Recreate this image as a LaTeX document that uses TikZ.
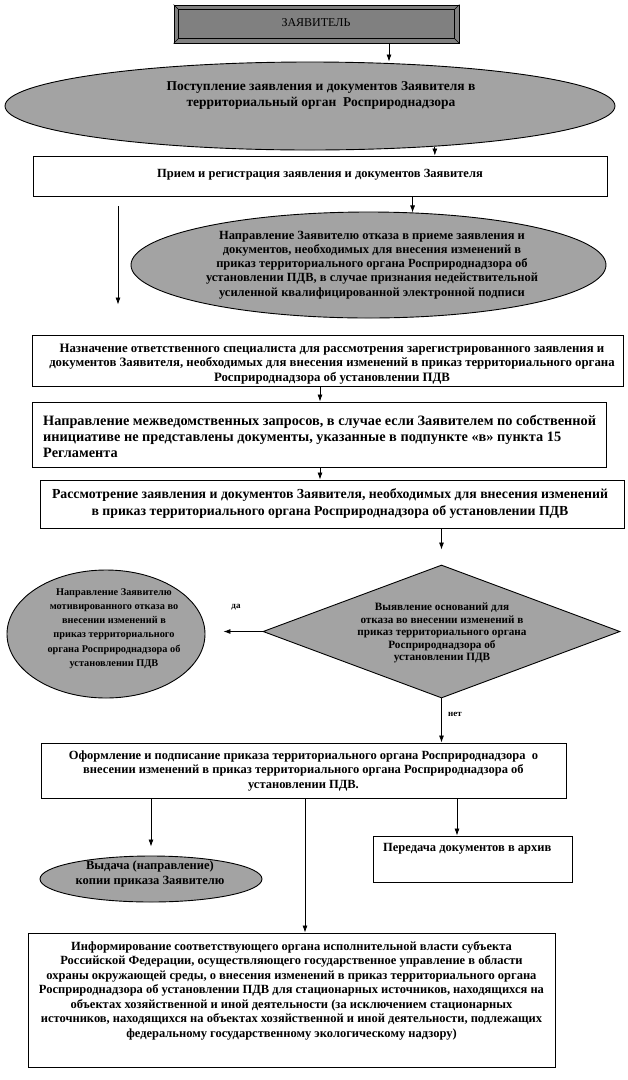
\documentclass[tikz,border=0pt]{standalone}
\usepackage{fontspec}
\setmainfont{Liberation Serif}
\usetikzlibrary{shapes.geometric,arrows.meta,calc}
\tikzset{
  box/.style={draw, line width=0.9pt, fill=white, inner sep=0pt},
  gshape/.style={draw, line width=0.9pt, fill=black!36, inner sep=0pt},
  txt/.style={align=center, inner sep=0pt, font=\fontsize{12.5}{14.5}\selectfont\bfseries},
  arr/.style={-{Latex[length=7pt,width=5pt]}, line width=0.8pt},
  small/.style={inner sep=0pt, font=\fontsize{9}{10}\selectfont\bfseries}
}
\begin{document}
\begin{tikzpicture}[x=1pt,y=-1pt]
\useasboundingbox (0,0) rectangle (628,1080);

% ---- shapes ----
\node[draw, line width=0.9pt, fill=black!50, minimum width=285, minimum height=38, inner sep=0pt] (zayav) at (316.5,24) {};
\draw[line width=0.6pt] ($(zayav.north west)+(5,5)$) rectangle ($(zayav.south east)+(-5,-5)$);
\draw[line width=0.6pt] (zayav.north west) -- ++(5,5) (zayav.north east) -- ++(-5,5)
  (zayav.south west) -- ++(5,-5) (zayav.south east) -- ++(-5,-5);
\node[inner sep=0pt, font=\fontsize{12}{14}\selectfont] (zayavt) at (316,23) {ЗАЯВИТЕЛЬ};

\node[gshape, ellipse, minimum width=610, minimum height=88] (e1) at (310,106) {};
\node[txt, font=\fontsize{13.5}{16}\selectfont\bfseries] (e1t) at (321,95) {Поступление заявления и документов Заявителя в\\территориальный орган\ \ Росприроднадзора};

\node[box, minimum width=574, minimum height=40] (priem) at (320,176) {};
\node[txt] (priemt) at (320,175) {Прием и регистрация заявления и документов Заявителя};

\node[gshape, ellipse, minimum width=475, minimum height=106] (e2) at (368.5,265) {};
\node[txt, font=\fontsize{12.5}{14.2}\selectfont\bfseries] (e2t) at (372,265) {Направление Заявителю отказа в приеме заявления и\\документов, необходимых для внесения изменений в\\приказ территориального органа Росприроднадзора об\\установлении ПДВ, в случае признания недействительной\\усиленной квалифицированной электронной подписи};

\node[box, minimum width=591, minimum height=51] (naznach) at (327.5,360.5) {};
\node[txt, font=\fontsize{12.8}{14.8}\selectfont\bfseries] (naznacht) at (332,364) {Назначение ответственного специалиста для рассмотрения зарегистрированного заявления и\\документов Заявителя, необходимых для внесения изменений в приказ территориального органа\\Росприроднадзора об установлении ПДВ};

\node[box, minimum width=574, minimum height=65] (mezhved) at (319,434.5) {};
\node[txt, align=left, anchor=west, font=\fontsize{14.3}{16}\selectfont\bfseries] (mezhvedt) at (43,436) {Направление межведомственных запросов, в случае если Заявителем по собственной\\инициативе не представлены документы, указанные в подпункте «в» пункта 15\\Регламента};

\node[box, minimum width=584, minimum height=48] (rassm) at (332,504) {};
\node[txt, font=\fontsize{13.8}{17}\selectfont\bfseries] (rassmt) at (330,504) {Рассмотрение заявления и документов Заявителя, необходимых для внесения изменений\\в приказ территориального органа Росприроднадзора об установлении ПДВ};

\node[gshape, diamond, minimum width=357, minimum height=133] (dia) at (441.5,631.5) {};
\node[txt, font=\fontsize{11.2}{12.6}\selectfont\bfseries] (diat) at (442,633) {Выявление оснований для\\отказа во внесении изменений в\\приказ территориального органа\\Росприроднадзора об\\установлении ПДВ};

\node[gshape, ellipse, minimum width=198, minimum height=128] (e3) at (106,634) {};
\node[txt, font=\fontsize{10.3}{14.2}\selectfont\bfseries] (e3t) at (114,628.5) {Направление Заявителю\\мотивированного отказа во\\внесении изменений в\\приказ территориального\\органа Росприроднадзора об\\установлении ПДВ};

\node[box, minimum width=525, minimum height=55] (oform) at (303.5,770.5) {};
\node[txt] (oformt) at (303.5,771) {Оформление и подписание приказа территориального органа Росприроднадзора\ \ о\\внесении изменений в приказ территориального органа Росприроднадзора об\\установлении ПДВ.};

\node[box, minimum width=199, minimum height=46] (pered) at (472.5,859) {};
\node[txt, anchor=west] (peredt) at (383,849) {Передача документов в архив};

\node[gshape, ellipse, minimum width=222, minimum height=46] (e4) at (151,879) {};
\node[txt] (e4t) at (150,874) {Выдача (направление)\\копии приказа Заявителю};

\node[box, minimum width=527, minimum height=134] (inform) at (291.5,1000) {};
\node[txt] (informt) at (291.5,990.5) {Информирование соответствующего органа исполнительной власти субъекта\\Российской Федерации, осуществляющего государственное управление в области\\охраны окружающей среды, о внесения изменений в приказ территориального органа\\Росприроднадзора об установлении ПДВ для стационарных источников, находящихся на\\объектах хозяйственной и иной деятельности (за исключением стационарных\\источников, находящихся на объектах хозяйственной и иной деятельности, подлежащих\\федеральному государственному экологическому надзору)};

% ---- helper x positions ----
\coordinate (x389) at (389,0);
\coordinate (x118) at (118,0);
\coordinate (x320) at (320,0);
\coordinate (x305) at (305,0);
\coordinate (x457) at (457,0);

% ---- connectors ----
\draw[arr] (zayav.south -| x389) -- (e1.north -| x389);
\draw[arr] (e1.-18) -- (e1.-18 |- priem.north);
\draw[arr] (priem.south -| e2.50.5) -- (e2.50.5);
\draw[arr, shorten <=10pt, shorten >=30pt] (priem.south -| x118) -- (naznach.north -| x118);
\draw[arr] (naznach.south -| x320) -- (mezhved.north -| x320);
\draw[arr] (mezhved.south -| x320) -- (rassm.north -| x320);
\draw[arr, shorten >=15pt] (rassm.south -| dia.north) -- (dia.north);
\draw[arr, shorten >=18pt] (dia.west) -- (dia.west -| e3.east);
\node[small] (da) at (236,607) {да};
\draw[arr] (dia.south) -- (dia.south |- oform.north);
\node[small, anchor=west] (net) at (448,714) {нет};
\draw[arr, shorten >=9pt] (oform.south -| e4.north) -- (e4.north);
\draw[arr] (oform.south -| x305) -- (inform.north -| x305);
\draw[arr] (oform.south -| x457) -- (pered.north -| x457);
\end{tikzpicture}
\end{document}
